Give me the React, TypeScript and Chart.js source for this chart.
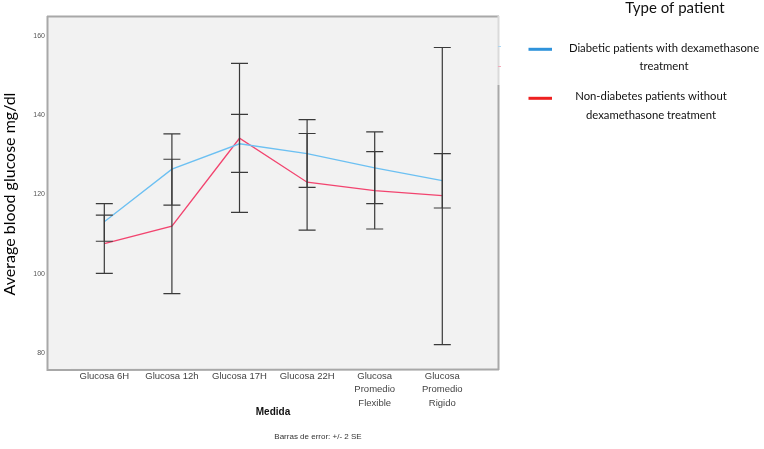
import React, { useEffect, useRef } from "react";
import { Chart, registerables } from "chart.js";

Chart.register(...registerables);

const categories: string[][] = [
  ["Glucosa 6H"],
  ["Glucosa 12h"],
  ["Glucosa 17H"],
  ["Glucosa 22H"],
  ["Glucosa", "Promedio", "Flexible"],
  ["Glucosa", "Promedio", "Rigido"],
];
const yTicks = [80, 100, 120, 140, 160];

const diabeticMean = [113.1, 126.4, 132.8, 130.3, 126.7, 123.5];
const diabeticLow = [108.2, 117.3, 125.6, 121.8, 117.7, 116.6];
const diabeticHigh = [117.7, 135.3, 140.2, 138.9, 135.8, 130.3];

const nonDiabeticMean = [107.6, 112.0, 134.2, 123.1, 121.0, 119.7];
const nonDiabeticLow = [100.1, 95.0, 115.5, 111.0, 111.3, 82.1];
const nonDiabeticHigh = [114.8, 128.9, 153.1, 135.4, 130.8, 157.1];

const legendTitle = "Type of patient";
const legendItems = [
  { lines: ["Diabetic patients with dexamethasone", "treatment"], color: "#2f93db" },
  { lines: ["Non-diabetes patients without", "dexamethasone treatment"], color: "#ee2020" },
];
const yTitle = "Average blood glucose mg/dl";
const xTitle = "Medida";
const footnote = "Barras de error: +/- 2 SE";

export default function App() {
  const ref = useRef<HTMLCanvasElement | null>(null);

  useEffect(() => {
    const canvas = ref.current;
    if (!canvas) return;

    const bgPlugin = {
      id: "bgPlugin",
      beforeDraw(chart: any) {
        const { ctx, chartArea: a } = chart;
        ctx.save();
        ctx.fillStyle = "#ffffff";
        ctx.fillRect(0, 0, chart.width, chart.height);
        ctx.fillStyle = "#f2f2f2";
        ctx.fillRect(a.left, a.top, a.right - a.left, a.bottom - a.top);
        ctx.restore();
      },
    };

    const errorBarPlugin = {
      id: "errorBars",
      afterDatasetsDraw(chart: any) {
        const { ctx } = chart;
        const xs = chart.scales.x;
        const ys = chart.scales.y;
        ctx.save();
        ctx.strokeStyle = "#3a3a3a";
        ctx.lineWidth = 1.2;
        const bars = [
          [diabeticLow, diabeticHigh],
          [nonDiabeticLow, nonDiabeticHigh],
        ];
        bars.forEach(([lo, hi]) => {
          lo.forEach((l, i) => {
            const x = xs.getPixelForValue(i);
            const y1 = ys.getPixelForValue(l);
            const y2 = ys.getPixelForValue(hi[i]);
            ctx.beginPath();
            ctx.moveTo(x, y1);
            ctx.lineTo(x, y2);
            ctx.moveTo(x - 8.5, y1);
            ctx.lineTo(x + 8.5, y1);
            ctx.moveTo(x - 8.5, y2);
            ctx.lineTo(x + 8.5, y2);
            ctx.stroke();
          });
        });
        ctx.restore();
      },
    };

    const decorPlugin = {
      id: "decor",
      afterDraw(chart: any) {
        const { ctx, chartArea: a } = chart;
        ctx.save();
        // frame
        ctx.lineWidth = 2;
        ctx.strokeStyle = "#a8a8a8";
        ctx.beginPath();
        ctx.moveTo(a.left - 1, a.top - 0.5);
        ctx.lineTo(a.right + 1, a.top - 0.5);
        ctx.moveTo(a.left - 0.5, a.top - 1);
        ctx.lineTo(a.left - 0.5, a.bottom + 1);
        ctx.lineTo(a.right + 1, a.bottom + 0.5);
        ctx.stroke();
        ctx.strokeStyle = "#dadada";
        ctx.beginPath();
        ctx.moveTo(a.right + 0.5, a.top - 1);
        ctx.lineTo(a.right + 0.5, 85);
        ctx.stroke();
        ctx.strokeStyle = "#a8a8a8";
        ctx.beginPath();
        ctx.moveTo(a.right + 0.5, 85);
        ctx.lineTo(a.right + 0.5, a.bottom + 1);
        ctx.stroke();
        // tiny leftover marks
        ctx.lineWidth = 1;
        ctx.strokeStyle = "#a9d6f3";
        ctx.beginPath();
        ctx.moveTo(a.right, 46.5);
        ctx.lineTo(a.right + 3, 46.5);
        ctx.stroke();
        ctx.strokeStyle = "#f4a9b8";
        ctx.beginPath();
        ctx.moveTo(a.right, 66.5);
        ctx.lineTo(a.right + 3, 66.5);
        ctx.stroke();

        // y title
        ctx.fillStyle = "#000000";
        ctx.font = "16px Lato";
        ctx.textAlign = "center";
        ctx.textBaseline = "middle";
        ctx.save();
        ctx.translate(10, 194);
        ctx.rotate(-Math.PI / 2);
        ctx.fillText(yTitle, 0, 0);
        ctx.restore();

        // x title
        ctx.font = "bold 10px 'Liberation Sans'";
        ctx.fillStyle = "#111111";
        ctx.fillText(xTitle, (a.left + a.right) / 2, 412);
        ctx.font = "8px 'Liberation Sans'";
        ctx.fillStyle = "#333333";
        ctx.fillText(footnote, 318, 437);

        // legend
        ctx.fillStyle = "#111111";
        ctx.font = "15px Lato";
        ctx.fillText(legendTitle, 675, 8);
        ctx.font = "11.3px Lato";
        const markerY = [49.3, 98.3];
        const textCenters = [664, 651];
        const textYs = [
          [48.3, 66.7],
          [96.7, 115],
        ];
        legendItems.forEach((it, k) => {
          ctx.strokeStyle = it.color;
          ctx.lineWidth = 3;
          ctx.beginPath();
          ctx.moveTo(528.5, markerY[k]);
          ctx.lineTo(552, markerY[k]);
          ctx.stroke();
          ctx.fillStyle = "#111111";
          it.lines.forEach((ln, j) => {
            ctx.fillText(ln, textCenters[k], textYs[k][j]);
          });
        });
        ctx.restore();
      },
    };

    const chart = new Chart(canvas, {
      type: "line",
      data: {
        datasets: [
          {
            label: legendItems[0].lines.join(" "),
            data: diabeticMean.map((v, i) => ({ x: i, y: v })),
            borderColor: "#6cc0f2",
            borderWidth: 1.3,
            pointRadius: 0,
            tension: 0,
          },
          {
            label: legendItems[1].lines.join(" "),
            data: nonDiabeticMean.map((v, i) => ({ x: i, y: v })),
            borderColor: "#f2446f",
            borderWidth: 1.3,
            pointRadius: 0,
            tension: 0,
          },
        ],
      },
      options: {
        responsive: false,
        animation: false,
        layout: { padding: { left: 0, top: 17, right: 266, bottom: 0 } },
        plugins: {
          legend: { display: false },
          tooltip: { enabled: false },
        },
        scales: {
          x: {
            type: "linear",
            min: -0.833,
            max: 5.824,
            grid: { display: false, drawTicks: false },
            border: { display: false },
            afterBuildTicks(scale: any) {
              scale.ticks = categories.map((_, i) => ({ value: i }));
            },
            afterFit(scale: any) {
              scale.height = 80;
            },
            ticks: {
              autoSkip: false,
              maxRotation: 0,
              minRotation: 0,
              padding: 0.5,
              color: "#444444",
              font: { family: "'Liberation Sans'", size: 9.5, lineHeight: 1.42 },
              callback: (v: any) => categories[Math.round(Number(v))] ?? "",
            },
          },
          y: {
            type: "linear",
            min: 75.96,
            max: 164.8,
            grid: { display: false, drawTicks: false },
            border: { display: false },
            afterBuildTicks(scale: any) {
              scale.ticks = yTicks.map((v) => ({ value: v }));
            },
            afterFit(scale: any) {
              scale.width = 48;
            },
            ticks: {
              padding: 3,
              color: "#555555",
              font: { family: "'Liberation Sans'", size: 7 },
            },
          },
        },
      },
      plugins: [bgPlugin, errorBarPlugin, decorPlugin],
    } as any);

    return () => chart.destroy();
  }, []);

  return (
    <div style={{ position: "absolute", left: 0, top: 0, width: 764, height: 449 }}>
      <canvas ref={ref} width={764} height={449} />
    </div>
  );
}
